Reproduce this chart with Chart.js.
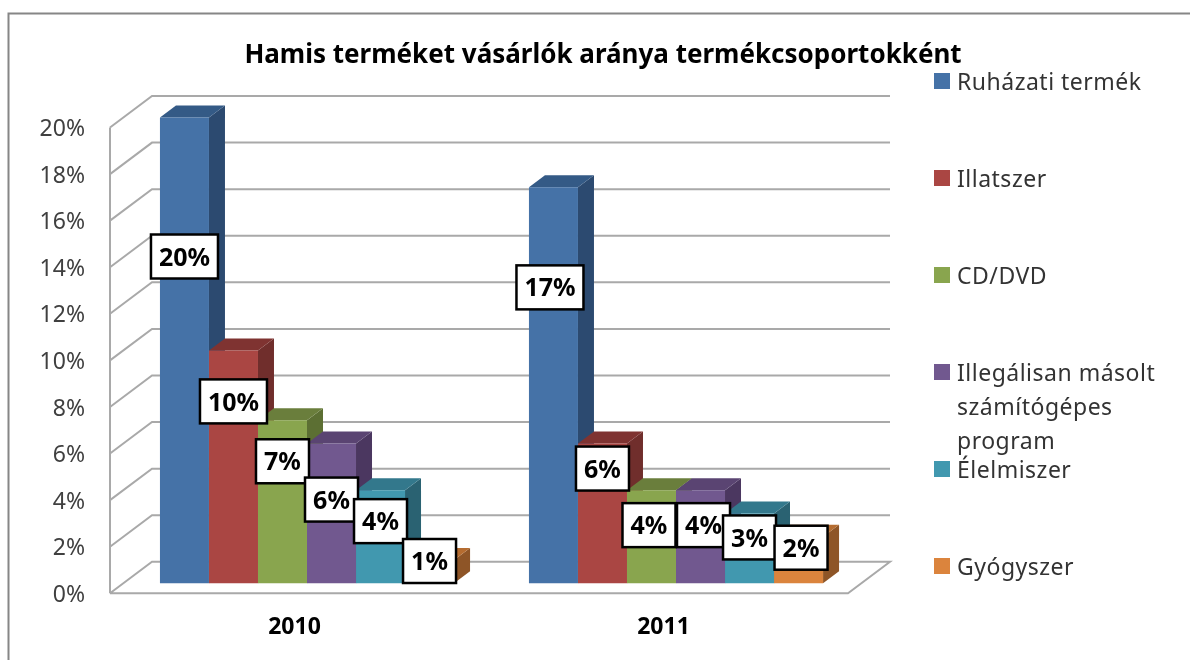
<!DOCTYPE html>
<html>
<head>
<meta charset="utf-8">
<style>
  html, body { margin: 0; background: #fff; }
  canvas { display: block; }
</style>
<script src="https://cdn.jsdelivr.net/npm/chart.js@4"></script>
</head>
<body>
<canvas id="myChart" width="1190" height="660"></canvas>
<script>
const chartTitle = 'Hamis terméket vásárlók aránya termékcsoportokként'
const years = ['2010', '2011']
const ruhazati = [20, 17]
const illatszer = [10, 6]
const cdDvd = [7, 4]
const illegalis = [6, 4]
const elelmiszer = [4, 3]
const gyogyszer = [1, 2]
const seriesNames = ['Ruházati termék', 'Illatszer', 'CD/DVD', 'Illegálisan másolt', 'Élelmiszer', 'Gyógyszer']
const extraNameLines = { 3: ['számítógépes', 'program'] }

const seriesValues = [ruhazati, illatszer, cdDvd, illegalis, elelmiszer, gyogyszer]

// front, top and side colours of each series
const frontColors = ['#4572a7', '#aa4643', '#89a54e', '#71588f', '#4198af', '#db843d']
const topColors = ['#345a86', '#7f3331', '#6a7e3c', '#5a4472', '#33788c', '#b56c30']
const sideColors = ['#2c4a70', '#702e2c', '#5c6f33', '#4b3760', '#2a6272', '#8e5527']

// the boxes were placed by hand in the original, offset from the bar top and centre
const labelDown = [[139, 100], [51, 25], [41, 35], [56, 35], [31, 24], [1, 11]]
const labelRight = [[0, -3.5], [0, 0], [0, -2.5], [0, 3], [0, 0], [0, 2.5]]

const depthX = 16, depthY = 12       // depth of one bar
const wallX = 42, wallY = 31.5       // depth of the floor
const shiftX = 12.5, shiftY = 10     // bars stand this far behind the axis
const gridColor = '#a9a9a9'

const chart3d = {
  id: 'chart3d',
  beforeDraw(chart) {
    const c = chart.ctx
    c.strokeStyle = '#868686'
    c.lineWidth = 2
    c.beginPath()
    c.moveTo(8.5, 660)
    c.lineTo(8.5, 13.5)
    c.lineTo(1190, 13.5)
    c.stroke()
  },
  beforeDatasetsDraw(chart) {
    const c = chart.ctx
    const { left, right } = chart.chartArea
    const y = chart.scales.y

    c.strokeStyle = gridColor
    c.lineWidth = 2
    y.ticks.forEach(t => {
      const py = y.getPixelForValue(t.value)
      c.beginPath()
      c.moveTo(left, py)
      c.lineTo(left + wallX, py - wallY)
      c.lineTo(right + wallX, py - wallY)
      if (t.value === 0) {
        c.lineTo(right, py)
        c.lineTo(left, py)
      }
      c.stroke()
    })
    c.beginPath()
    c.moveTo(left, y.getPixelForValue(0))
    c.lineTo(left, y.getPixelForValue(20))
    c.stroke()

    c.save()
    c.translate(shiftX, -shiftY)
    chart.data.datasets.forEach((ds, i) => {
      chart.getDatasetMeta(i).data.forEach(bar => {
        const l = bar.x - bar.width / 2, r = bar.x + bar.width / 2
        c.fillStyle = sideColors[i]
        c.beginPath()
        c.moveTo(r, bar.y)
        c.lineTo(r + depthX, bar.y - depthY)
        c.lineTo(r + depthX, bar.base - depthY)
        c.lineTo(r, bar.base)
        c.fill()
        c.fillStyle = topColors[i]
        c.beginPath()
        c.moveTo(l, bar.y)
        c.lineTo(l + depthX, bar.y - depthY)
        c.lineTo(r + depthX, bar.y - depthY)
        c.lineTo(r, bar.y)
        c.fill()
      })
    })
  },
  afterDatasetsDraw(chart) {
    chart.ctx.restore()
  },
  afterDraw(chart) {
    const c = chart.ctx
    c.textBaseline = 'middle'

    // value boxes
    chart.data.datasets.forEach((ds, i) => {
      chart.getDatasetMeta(i).data.forEach((bar, j) => {
        const txt = ds.data[j] + '%'
        const w = ds.data[j] >= 10 ? 67 : 53
        const h = 44
        const cx = bar.x + shiftX + labelRight[i][j]
        const cy = bar.y - shiftY + labelDown[i][j]
        c.fillStyle = '#fff'
        c.strokeStyle = '#000'
        c.lineWidth = 2.5
        c.fillRect(cx - w / 2, cy - h / 2, w, h)
        c.strokeRect(cx - w / 2, cy - h / 2, w, h)
        c.fillStyle = '#000'
        c.font = 'bold 25px "Noto Sans"'
        c.textAlign = 'center'
        c.fillText(txt, cx, cy + 2)
      })
    })

    // title
    c.fillStyle = '#000'
    c.font = 'bold 26px "Noto Sans"'
    c.textAlign = 'center'
    c.fillText(chartTitle, 603, 56)

    // legend
    c.textAlign = 'left'
    c.font = '23px "Noto Sans"'
    c.letterSpacing = '0.5px'
    seriesNames.forEach((name, i) => {
      const ly = 81 + i * 97
      c.fillStyle = frontColors[i]
      c.fillRect(934, ly - 8, 16, 16)
      c.fillStyle = '#333'
      c.fillText(name, 957, ly + 2)
      const extra = extraNameLines[i] || []
      extra.forEach((line, k) => c.fillText(line, 957, ly + 2 + (k + 1) * 34))
    })
    c.letterSpacing = '0px'
  }
}

new Chart(document.getElementById('myChart'), {
  type: 'bar',
  data: {
    labels: years,
    datasets: seriesValues.map((vals, i) => ({
      label: seriesNames[i],
      data: vals,
      backgroundColor: frontColors[i],
      borderWidth: 0,
      categoryPercentage: 0.797,
      barPercentage: 1,
      clip: false
    }))
  },
  plugins: [chart3d],
  options: {
    responsive: false,
    animation: false,
    devicePixelRatio: 1,
    layout: { padding: { left: 0, top: 127.5, right: 342, bottom: 0 } },
    plugins: {
      legend: { display: false },
      title: { display: false },
      tooltip: { enabled: false }
    },
    scales: {
      x: {
        afterFit: s => { s.height = 66.7 },
        grid: { display: false, drawTicks: false },
        border: { display: false },
        ticks: { padding: 20, color: '#000', maxRotation: 0, font: { family: 'Noto Sans', size: 23, weight: 'bold' } }
      },
      y: {
        min: 0,
        max: 20,
        afterFit: s => { s.width = 110 },
        grid: { display: false, drawTicks: false },
        border: { display: false },
        ticks: {
          stepSize: 2,
          padding: 25,
          labelOffset: 2,
          color: '#404040',
          font: { family: 'Noto Sans', size: 23 },
          callback: v => v + '%'
        }
      }
    }
  }
})
</script>
</body>
</html>
